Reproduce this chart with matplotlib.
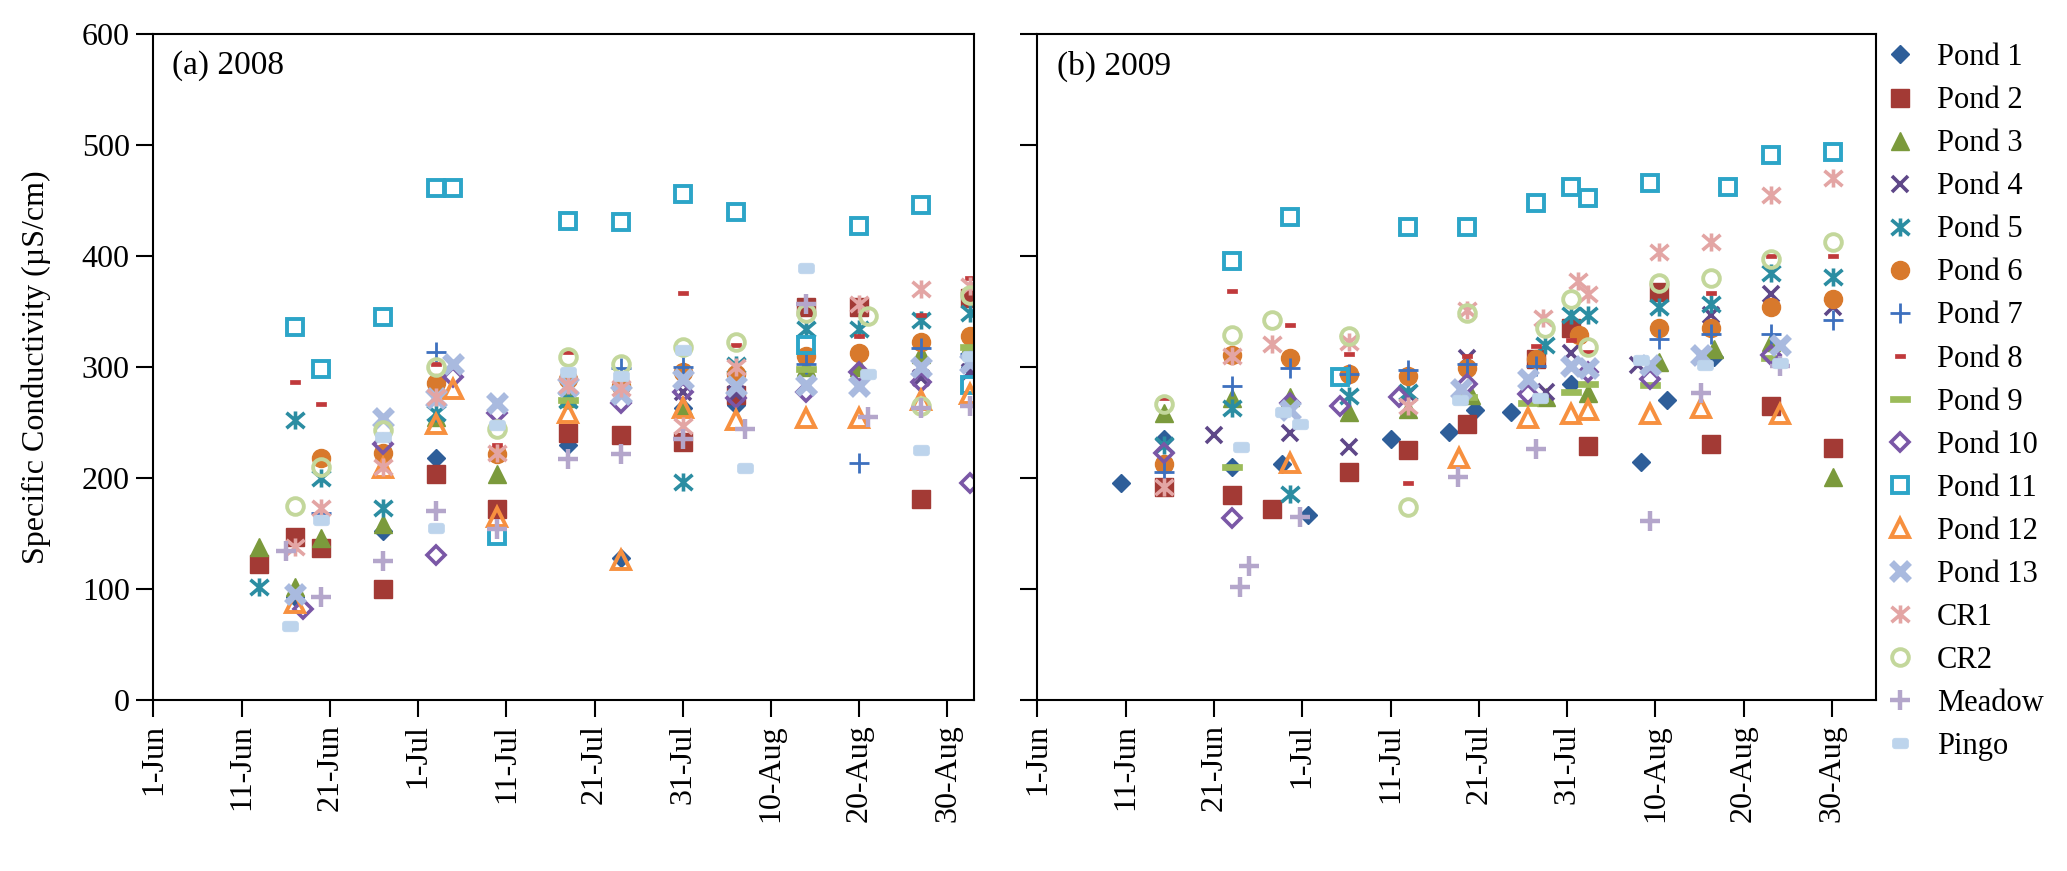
import numpy as np
import matplotlib
matplotlib.use("Agg")
import matplotlib.pyplot as plt
from matplotlib.path import Path
from matplotlib.lines import Line2D

plt.rcParams["font.family"] = ["Liberation Serif", "DejaVu Serif"]

# x values are days after 1 June, y values are specific conductivity (uS/cm)
date_ticks = [0, 10, 20, 30, 40, 50, 60, 70, 80, 90]
date_labels = ["1-Jun", "11-Jun", "21-Jun", "1-Jul", "11-Jul", "21-Jul",
               "31-Jul", "10-Aug", "20-Aug", "30-Aug"]
series_names = ["Pond 1", "Pond 2", "Pond 3", "Pond 4", "Pond 5", "Pond 6",
                "Pond 7", "Pond 8", "Pond 9", "Pond 10", "Pond 11", "Pond 12",
                "Pond 13", "CR1", "CR2", "Meadow", "Pingo"]

# ---- 2008 ----
pond1_08_d = [16, 26, 32, 47, 53, 60, 66, 92.5]
pond1_08_v = [93, 152, 218, 230, 128, 263, 266, 300]
pond2_08_d = [12, 16, 19, 26, 32, 39, 47, 53, 60, 66, 74, 80, 87, 92.5]
pond2_08_v = [123, 147, 137, 100, 204, 172, 241, 239, 233, 275, 354, 354, 181, 362]
pond3_08_d = [12, 16, 19, 26, 32, 39, 47, 60, 74, 80, 87, 92.5]
pond3_08_v = [138, 102, 146, 159, 255, 204, 272, 265, 300, 300, 312, 320]
pond4_08_d = [60, 66, 87, 92.5]
pond4_08_v = [278, 276, 290, 296]
pond5_08_d = [12, 16, 19, 26, 32, 47, 60, 66, 74, 80, 87, 92.5]
pond5_08_v = [102, 252, 200, 173, 259, 270, 197, 302, 334, 334, 342, 349]
pond6_08_d = [19, 26, 32, 39, 47, 53, 60, 66, 74, 80, 87, 92.5]
pond6_08_v = [218, 223, 286, 222, 289, 283, 296, 294, 310, 313, 323, 328]
pond7_08_d = [19, 32, 53, 60, 74, 80, 87, 92.5]
pond7_08_v = [169, 314, 299, 300, 303, 214, 317, 312]
pond8_08_d = [16, 19, 32, 39, 47, 60, 66, 80, 87, 92.5]
pond8_08_v = [287, 267, 303, 230, 314, 367, 320, 328, 347, 380]
pond9_08_d = [47, 74, 92.5]
pond9_08_v = [270, 298, 318]
pond10_08_d = [17, 26, 32, 34, 39, 53, 60, 66, 74, 80, 87, 92.5]
pond10_08_v = [82, 231, 131, 291, 259, 268, 278, 272, 278, 296, 287, 196]
pond11_08_d = [16, 19, 26, 32, 34, 39, 47, 53, 60, 66, 74, 80, 87, 92.5]
pond11_08_v = [336, 298, 345, 461, 461, 148, 432, 431, 456, 440, 320, 427, 446, 284]
pond12_08_d = [16, 26, 32, 34, 39, 47, 53, 60, 66, 74, 80, 87, 92.5]
pond12_08_v = [88, 209, 249, 280, 165, 259, 126, 263, 252, 254, 254, 270, 276]
pond13_08_d = [16, 26, 32, 34, 39, 47, 53, 60, 66, 74, 80, 87, 92.5]
pond13_08_v = [96, 254, 272, 303, 268, 283, 276, 289, 283, 284, 283, 300, 304]
cr1_08_d = [16, 19, 26, 32, 39, 47, 53, 60, 66, 80, 87, 92.5]
cr1_08_v = [138, 173, 210, 273, 223, 284, 281, 247, 300, 357, 370, 373]
cr2_08_d = [16, 19, 26, 32, 39, 47, 53, 60, 66, 74, 81, 87, 92.5]
cr2_08_v = [175, 210, 243, 300, 244, 309, 303, 318, 323, 349, 346, 265, 365]
meadow_08_d = [15, 19, 26, 32, 39, 47, 53, 60, 67, 74, 81, 87, 92.5]
meadow_08_v = [134, 93, 125, 170, 154, 217, 222, 235, 244, 357, 255, 263, 265]
pingo_08_d = [15.5, 19, 26, 32, 39, 47, 53, 60, 67, 74, 81, 87, 92.5]
pingo_08_v = [67, 162, 237, 155, 248, 296, 292, 315, 209, 389, 294, 225, 310]

# ---- 2009 ----
pond1_09_d = [9.5, 14.3, 22, 27.7, 30.6, 40, 46.6, 49.6, 53.6, 60.5, 68.4, 71.3, 76.7]
pond1_09_v = [196, 235, 210, 213, 167, 235, 242, 261, 260, 285, 215, 270, 309]
pond2_09_d = [14.3, 22, 26.6, 35.3, 42, 48.7, 56.5, 60.5, 62.4, 70.4, 76.3, 83.1, 90.1]
pond2_09_v = [192, 185, 172, 206, 225, 249, 307, 335, 229, 368, 231, 265, 227]
pond3_09_d = [14.3, 22, 28.6, 35.3, 42, 49.1, 57.6, 62.4, 70.4, 76.7, 83.1, 90.1]
pond3_09_v = [259, 272, 273, 260, 262, 275, 273, 277, 305, 316, 323, 201]
pond4_09_d = [20, 28.6, 35.3, 42, 48.7, 57.6, 60.5, 68, 76.3, 83.1, 90.1]
pond4_09_v = [239, 241, 228, 276, 308, 278, 313, 302, 347, 366, 354]
pond5_09_d = [14.3, 22, 28.6, 35.3, 42, 57.5, 60.5, 62.4, 70.4, 76.3, 83.1, 90.1]
pond5_09_v = [230, 263, 186, 274, 278, 320, 347, 347, 354, 357, 385, 381]
pond6_09_d = [14.3, 22, 28.6, 35.3, 42, 48.7, 56.5, 61.4, 70.4, 76.3, 83.1, 90.1]
pond6_09_v = [213, 311, 308, 294, 292, 299, 307, 329, 335, 335, 354, 361]
pond7_09_d = [14.3, 22, 28.6, 35.3, 42, 48.7, 56.5, 70.4, 76.3, 83.1, 90.1]
pond7_09_v = [206, 283, 299, 294, 297, 303, 301, 325, 330, 330, 342]
pond8_09_d = [14.3, 22, 28.6, 35.3, 42, 48.7, 56.5, 60.5, 62.4, 76.3, 83.1, 90.1]
pond8_09_v = [272, 369, 338, 312, 196, 310, 319, 324, 314, 367, 400, 400]
pond9_09_d = [22, 48.7, 55.6, 60.5, 62.4, 69.4, 83.1]
pond9_09_v = [210, 273, 268, 278, 285, 284, 308]
pond10_09_d = [14.3, 22, 28.6, 34.3, 41, 48.7, 55.6, 62.4, 69.4, 83.1]
pond10_09_v = [223, 164, 268, 265, 273, 285, 276, 296, 289, 311]
pond11_09_d = [22, 28.6, 34.3, 42, 48.7, 56.5, 60.5, 62.4, 69.4, 78.2, 83.1, 90.1]
pond11_09_v = [396, 435, 291, 426, 426, 448, 462, 452, 466, 462, 491, 494]
pond12_09_d = [28.6, 47.8, 55.6, 60.5, 62.4, 69.4, 75.2, 84.1]
pond12_09_v = [214, 218, 254, 258, 261, 258, 263, 258]
pond13_09_d = [28.6, 48, 55.6, 60.5, 62.4, 69.4, 75.2, 84.1]
pond13_09_v = [261, 280, 289, 301, 299, 302, 311, 320]
cr1_09_d = [14.3, 22, 26.6, 35.3, 42, 48.7, 57.3, 61.2, 62.4, 70.4, 76.3, 83.1, 90.1]
cr1_09_v = [192, 310, 321, 323, 265, 351, 344, 378, 366, 404, 413, 455, 470]
cr2_09_d = [14.3, 22, 26.6, 35.3, 42, 48.7, 57.5, 60.5, 62.4, 70.4, 76.3, 83.1, 90.1]
cr2_09_v = [267, 329, 342, 328, 174, 349, 335, 361, 318, 376, 380, 397, 413]
meadow_09_d = [23, 24, 29.8, 47.6, 56.5, 69.4, 75.2, 84.1]
meadow_09_v = [102, 121, 165, 201, 226, 161, 277, 301]
pingo_09_d = [23.1, 27.8, 29.8, 47.9, 56.9, 68.4, 75.6, 84.1]
pingo_09_v = [228, 260, 249, 270, 272, 306, 302, 304]


def rect_marker(w, h):
    return Path([(-w, -h), (w, -h), (w, h), (-w, h), (-w, -h)], closed=True)


def rounded_marker(w, h, r):
    pts = []
    for cx, cy, a0 in [(w - r, h - r, 0), (-w + r, h - r, 90),
                       (-w + r, -h + r, 180), (w - r, -h + r, 270)]:
        for a in np.radians(np.linspace(a0, a0 + 90, 6)):
            pts.append((cx + r * np.cos(a), cy + r * np.sin(a)))
    pts.append(pts[0])
    return Path(pts, closed=True)


star = Path([(-1, -0.85), (1, 0.85), (-1, 0.85), (1, -0.85), (0, -1), (0, 1)],
            [Path.MOVETO, Path.LINETO] * 3)

# marker, size, colour, filled, edge width
styles = {
    "Pond 1": ("D", 9.5, "#2E5E99", True, 1),
    "Pond 2": ("s", 13, "#A33A35", True, 1),
    "Pond 3": ("^", 13, "#7B9A3C", True, 1),
    "Pond 4": ("x", 12, "#5E4788", False, 2.6),
    "Pond 5": (star, 13, "#2B8DA2", False, 2.6),
    "Pond 6": ("o", 13, "#D8792C", True, 1),
    "Pond 7": ("+", 14, "#3D70BE", False, 2),
    "Pond 8": (rect_marker(1, 0.42), 7.5, "#C0393B", True, 0.5),
    "Pond 9": (rect_marker(1, 0.26), 14, "#9BBB59", True, 0.5),
    "Pond 10": ("D", 9, "#7A57A6", False, 2.6),
    "Pond 11": ("s", 12, "#2CA5C8", False, 2.8),
    "Pond 12": ("^", 12.5, "#F7903F", False, 2.8),
    "Pond 13": ("x", 13, "#A9BADF", False, 5),
    "CR1": (star, 13, "#E3A5A4", False, 2.6),
    "CR2": ("o", 12, "#C3D79B", False, 2.8),
    "Meadow": ("+", 14, "#B4A6CB", False, 3.2),
    "Pingo": (rounded_marker(1, 0.66, 0.35), 11.5, "#BDD4EC", True, 0.5),
}

data_2008 = [(pond1_08_d, pond1_08_v), (pond2_08_d, pond2_08_v), (pond3_08_d, pond3_08_v),
             (pond4_08_d, pond4_08_v), (pond5_08_d, pond5_08_v), (pond6_08_d, pond6_08_v),
             (pond7_08_d, pond7_08_v), (pond8_08_d, pond8_08_v), (pond9_08_d, pond9_08_v),
             (pond10_08_d, pond10_08_v), (pond11_08_d, pond11_08_v), (pond12_08_d, pond12_08_v),
             (pond13_08_d, pond13_08_v), (cr1_08_d, cr1_08_v), (cr2_08_d, cr2_08_v),
             (meadow_08_d, meadow_08_v), (pingo_08_d, pingo_08_v)]
data_2009 = [(pond1_09_d, pond1_09_v), (pond2_09_d, pond2_09_v), (pond3_09_d, pond3_09_v),
             (pond4_09_d, pond4_09_v), (pond5_09_d, pond5_09_v), (pond6_09_d, pond6_09_v),
             (pond7_09_d, pond7_09_v), (pond8_09_d, pond8_09_v), (pond9_09_d, pond9_09_v),
             (pond10_09_d, pond10_09_v), (pond11_09_d, pond11_09_v), (pond12_09_d, pond12_09_v),
             (pond13_09_d, pond13_09_v), (cr1_09_d, cr1_09_v), (cr2_09_d, cr2_09_v),
             (meadow_09_d, meadow_09_v), (pingo_09_d, pingo_09_v)]


def style_kw(name):
    m, ms, c, filled, mew = styles[name]
    return dict(marker=m, markersize=ms, markeredgecolor=c,
                markerfacecolor=c if filled else "none", markeredgewidth=mew,
                linestyle="none")


fig = plt.figure(figsize=(20.67, 8.71), dpi=100)
ax1 = fig.add_axes([0.0742, 0.196, 0.397, 0.765])
ax2 = fig.add_axes([0.5019, 0.196, 0.4057, 0.765])

for ax, data, tag, xmax in [(ax1, data_2008, "(a) 2008", 93), (ax2, data_2009, "(b) 2009", 95)]:
    for name, (d, v) in zip(series_names, data):
        ax.plot(d, v, label=name, **style_kw(name))
    ax.set_xlim(0, xmax)
    ax.set_ylim(0, 600)
    ax.set_yticks(range(0, 601, 100))
    ax.set_xticks(date_ticks)
    ax.set_xticklabels(date_labels, rotation=90)
    ax.tick_params(direction="out", length=12, width=1.5, labelsize=23, pad=5)
    for sp in ax.spines.values():
        sp.set_linewidth(1.5)
    ax.text(0.023, 0.975, tag, transform=ax.transAxes, ha="left", va="top", fontsize=24)

ax2.tick_params(labelleft=False)
ax1.set_ylabel("Specific Conductivity (µS/cm)", fontsize=23, labelpad=22)

handles = [Line2D([], [], **style_kw(n)) for n in series_names]
fig.legend(handles, series_names, loc="upper left", bbox_to_anchor=(0.9, 0.975),
           frameon=False, fontsize=22, handlelength=1.2, handletextpad=0.6,
           labelspacing=0.46, borderpad=0.2)

fig.savefig("out.png", dpi=100)
